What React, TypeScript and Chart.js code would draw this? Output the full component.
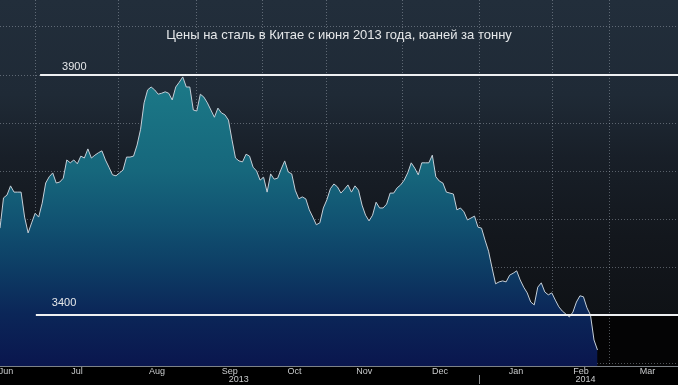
import React, { useEffect, useRef } from 'react';
import { Chart, registerables } from 'chart.js';

Chart.register(...registerables);

const TITLE = 'Цены на сталь в Китае с июня 2013 года, юаней за тонну';

// Daily steel price (yuan per tonne), one value per trading day from late June 2013
const steelPrice = [
  3581, 3644, 3650, 3669, 3656, 3656, 3656, 3604, 3571, 3592,
  3612, 3604, 3633, 3675, 3688, 3696, 3675, 3677, 3685, 3723,
  3717, 3723, 3715, 3731, 3727, 3746, 3727, 3733, 3738, 3742,
  3723, 3708, 3692, 3690, 3696, 3702, 3729, 3729, 3731, 3754,
  3787, 3842, 3869, 3875, 3869, 3860, 3862, 3865, 3862, 3848,
  3875, 3885, 3896, 3875, 3875, 3827, 3825, 3860, 3854, 3842,
  3827, 3812, 3831, 3821, 3817, 3806, 3765, 3727, 3721, 3719,
  3735, 3731, 3708, 3700, 3681, 3687, 3656, 3694, 3683, 3685,
  3704, 3721, 3698, 3694, 3660, 3642, 3646, 3642, 3619, 3604,
  3588, 3592, 3623, 3640, 3663, 3673, 3667, 3654, 3662, 3671,
  3656, 3669, 3660, 3629, 3608, 3596, 3608, 3635, 3623, 3623,
  3631, 3654, 3654, 3665, 3671, 3681, 3696, 3717, 3706, 3692,
  3717, 3717, 3717, 3733, 3688, 3679, 3675, 3656, 3654, 3652,
  3619, 3623, 3615, 3598, 3602, 3606, 3583, 3581, 3556, 3533,
  3498, 3465, 3469, 3471, 3469, 3483, 3487, 3492, 3473, 3458,
  3446, 3427, 3421, 3458, 3467, 3448, 3442, 3446, 3431, 3417,
  3408, 3402, 3396, 3406, 3427, 3440, 3438, 3415, 3400, 3348,
  3327,
];

const monthLabels = ['Jun', 'Jul', 'Aug', 'Sep', 'Oct', 'Nov', 'Dec', 'Jan', 'Feb', 'Mar'];
const monthLabelPos = [1.7, 21.9, 44.7, 65.4, 83.8, 103.6, 125.2, 146.8, 165.3, 184.2];
const monthBoundaries = [10.2, 33.6, 55.8, 74.8, 93.0, 114.4, 136.3, 157.3, 173.3];
const yearLabels = ['2013', '2014'];
const yearLabelPos = [67.9, 166.6];
const yearBoundary = 136.3;

const levelValues = [3900, 3400];
const levelLabels = ['3900', '3400'];
const levelStart = [11.4, 10.2];

const X_MIN = 0;
const X_MAX = 192.9;
const Y_MIN = 3293.75;
const Y_MAX = 4056.25;

const decorPlugin = {
  id: 'decor',
  beforeDraw(chart: any) {
    const { ctx, chartArea: a, width, height } = chart;
    const ys = chart.scales.y;
    ctx.save();
    ctx.fillStyle = '#000000';
    ctx.fillRect(0, 0, width, height);
    const yLow = ys.getPixelForValue(3400);
    const g = ctx.createLinearGradient(0, a.top, 0, yLow);
    g.addColorStop(0, '#222e3b');
    g.addColorStop(0.3, '#1f2a36');
    g.addColorStop(0.5, '#181f28');
    g.addColorStop(0.75, '#13171d');
    g.addColorStop(1, '#0f1216');
    ctx.fillStyle = g;
    ctx.fillRect(a.left, a.top, a.right - a.left, yLow - a.top);
    ctx.fillStyle = '#040405';
    ctx.fillRect(a.left, yLow, a.right - a.left, a.bottom - yLow);
    ctx.restore();
  },
  afterDraw(chart: any) {
    const { ctx, chartArea: a, width } = chart;
    const xs = chart.scales.x;
    const ys = chart.scales.y;
    ctx.save();
    // title
    ctx.fillStyle = '#e6e8ea';
    ctx.font = '13px "Liberation Sans", Arial, sans-serif';
    ctx.textAlign = 'center';
    ctx.textBaseline = 'middle';
    ctx.fillText(TITLE, width / 2, 35);
    // level labels
    ctx.font = '11px "Liberation Sans", Arial, sans-serif';
    ctx.textAlign = 'left';
    ctx.textBaseline = 'alphabetic';
    ctx.fillStyle = '#e6e8ea';
    const labelOffsets = [22, 16];
    const labelRise = [5, 9];
    levelValues.forEach((v, i) => {
      const px = xs.getPixelForValue(levelStart[i]) + labelOffsets[i];
      const py = ys.getPixelForValue(v) - labelRise[i];
      ctx.fillText(levelLabels[i], px, py);
    });
    // month labels
    ctx.fillStyle = '#c9cbcd';
    ctx.font = '9px "Liberation Sans Narrow", "Liberation Sans", Arial, sans-serif';
    ctx.textAlign = 'center';
    ctx.textBaseline = 'middle';
    monthLabels.forEach((m, i) => {
      ctx.fillText(m, Math.max(6, xs.getPixelForValue(monthLabelPos[i])), a.bottom + 6);
    });
    yearLabels.forEach((y, i) => {
      ctx.fillText(y, xs.getPixelForValue(yearLabelPos[i]), a.bottom + 14);
    });
    // year divider
    const dx = Math.round(xs.getPixelForValue(yearBoundary)) + 0.5;
    ctx.strokeStyle = '#8a8d90';
    ctx.lineWidth = 1;
    ctx.beginPath();
    ctx.moveTo(dx, a.bottom + 9);
    ctx.lineTo(dx, a.bottom + 18);
    ctx.stroke();
    // baseline
    ctx.strokeStyle = '#7d8287';
    ctx.beginPath();
    ctx.moveTo(a.left, a.bottom + 0.5);
    ctx.lineTo(a.right, a.bottom + 0.5);
    ctx.stroke();
    ctx.restore();
  },
};

export default function App() {
  const canvasRef = useRef<HTMLCanvasElement | null>(null);

  useEffect(() => {
    const canvas = canvasRef.current;
    if (!canvas) return;

    const fillGradient = (context: any) => {
      const chart = context.chart;
      const a = chart.chartArea;
      if (!a) return 'rgba(20,100,120,0.9)';
      const ys = chart.scales.y;
      const top = ys.getPixelForValue(3900);
      const g = chart.ctx.createLinearGradient(0, top, 0, a.bottom);
      g.addColorStop(0, '#1c7a88');
      g.addColorStop(0.33, '#16677c');
      g.addColorStop(0.5, '#115372');
      g.addColorStop(0.67, '#0d3c64');
      g.addColorStop(0.82, '#0b2658');
      g.addColorStop(1, '#0a164e');
      return g;
    };

    const chart = new Chart(canvas, {
      type: 'line',
      data: {
        datasets: [
          {
            label: 'price',
            data: steelPrice.map((v, i) => ({ x: i, y: v })),
            borderColor: '#c5cfd8',
            borderWidth: 1,
            pointRadius: 0,
            tension: 0,
            fill: 'start',
            backgroundColor: fillGradient,
            order: 2,
          },
          ...levelValues.map((v, i) => ({
            label: levelLabels[i],
            data: [
              { x: levelStart[i], y: v },
              { x: X_MAX, y: v },
            ],
            borderColor: '#eef0f2',
            borderWidth: 2,
            pointRadius: 0,
            fill: false,
            order: 1,
          })),
        ],
      },
      options: {
        responsive: false,
        animation: false,
        devicePixelRatio: 1,
        layout: { padding: { left: 0, right: 0, top: 0, bottom: 19 } },
        plugins: {
          legend: { display: false },
          tooltip: { enabled: false },
          title: { display: false },
        },
        scales: {
          x: {
            type: 'linear',
            min: X_MIN,
            max: X_MAX,
            z: 1,
            afterBuildTicks: (scale: any) => {
              scale.ticks = monthBoundaries.map((v) => ({ value: v }));
            },
            ticks: { display: false },
            grid: {
              drawTicks: false,
              color: 'rgba(170,180,190,0.45)',
              lineWidth: 1,
            },
            border: { display: false, dash: [1, 2] },
          },
          y: {
            type: 'linear',
            min: Y_MIN,
            max: Y_MAX,
            z: 1,
            ticks: { display: false, stepSize: 100, includeBounds: false },
            grid: {
              drawTicks: false,
              color: 'rgba(170,180,190,0.45)',
              lineWidth: 1,
            },
            border: { display: false, dash: [1, 2] },
          },
        },
      },
      plugins: [decorPlugin],
    });

    return () => chart.destroy();
  }, []);

  return (
    <div style={{ position: 'fixed', left: 0, top: 0, width: 678, height: 385, background: '#000' }}>
      <canvas ref={canvasRef} width={678} height={385} style={{ display: 'block', width: 678, height: 385 }} />
    </div>
  );
}
